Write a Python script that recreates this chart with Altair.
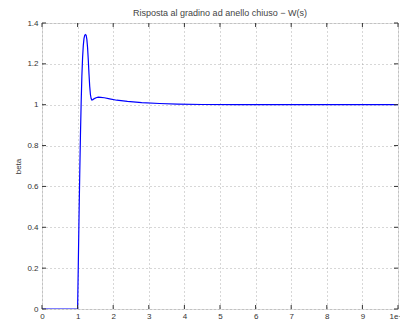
import altair as alt
import pandas as pd

# Closed-loop step response W(s)
time = [0.0, 0.5, 1.0, 1.02, 1.04, 1.06, 1.08, 1.10, 1.12, 1.14, 1.16, 1.18, 1.20,
        1.22, 1.24, 1.26, 1.28, 1.30, 1.32, 1.34, 1.36, 1.38, 1.40, 1.43, 1.47,
        1.52, 1.58, 1.65, 1.75, 1.9, 2.1, 2.4, 2.8, 3.3, 3.8, 4.5, 5.5, 7.0, 8.5, 10.0]
beta = [0.0, 0.0, 0.0, 0.22, 0.45, 0.66, 0.85, 1.01, 1.14, 1.23, 1.29, 1.325, 1.34,
        1.343, 1.34, 1.32, 1.28, 1.22, 1.15, 1.09, 1.05, 1.03, 1.023, 1.025, 1.03,
        1.034, 1.037, 1.036, 1.034, 1.029, 1.022, 1.016, 1.010, 1.006, 1.003, 1.001,
        1.0, 1.0, 1.0, 1.0]

x_ticks = [0, 1, 2, 3, 4, 5, 6, 7, 8, 9, 10]
y_ticks = [0, 0.2, 0.4, 0.6, 0.8, 1.0, 1.2, 1.4]

W, H = 356, 286
FONT = "Liberation Sans"

df = pd.DataFrame({"t": time, "beta": beta})
xt = pd.DataFrame({"v": x_ticks})
yt = pd.DataFrame({"v": y_ticks})

xscale = alt.Scale(domain=[0, 10], nice=False, zero=False)
yscale = alt.Scale(domain=[0, 1.4], nice=False, zero=False)

common = dict(grid=True, gridDash=[1, 3], gridColor="#999999", gridWidth=0.8,
              ticks=False, domain=False, labelFontSize=8, labelColor="#333333",
              labelFont=FONT, labelOverlap=False, labelFlush=False,
              titleFont=FONT, titleFontSize=8, titleFontWeight="normal",
              titleColor="#333333", format="~g")

xaxis = alt.Axis(values=x_ticks, title="Time", labelPadding=3,
                 titleY=H + 11, titleBaseline="top", **common)
yaxis = alt.Axis(values=y_ticks, title="beta", labelPadding=4,
                 titleX=-20, titleY=H / 2, **common)

line = alt.Chart(df).mark_line(color="#0000ff", strokeWidth=1.2, clip=True).encode(
    x=alt.X("t:Q", scale=xscale, axis=xaxis),
    y=alt.Y("beta:Q", scale=yscale, axis=yaxis),
)

# inward tick marks on all four sides of the box
tick_style = dict(color="#333333", strokeWidth=1)
xb = alt.Chart(xt).mark_rule(**tick_style).encode(
    x=alt.X("v:Q", scale=xscale, axis=xaxis), y=alt.value(H), y2=alt.value(H - 4))
xtop = alt.Chart(xt).mark_rule(**tick_style).encode(
    x=alt.X("v:Q", scale=xscale, axis=xaxis), y=alt.value(0), y2=alt.value(4))
yl = alt.Chart(yt).mark_rule(**tick_style).encode(
    y=alt.Y("v:Q", scale=yscale, axis=yaxis), x=alt.value(0), x2=alt.value(4))
yr = alt.Chart(yt).mark_rule(**tick_style).encode(
    y=alt.Y("v:Q", scale=yscale, axis=yaxis), x=alt.value(W), x2=alt.value(W - 4))

chart = alt.layer(line, xb, xtop, yl, yr).properties(
    width=W, height=H,
    title=alt.TitleParams("Risposta al gradino ad anello chiuso − W(s)",
                          font=FONT, fontSize=9, fontWeight="normal",
                          color="#444444", offset=1),
    autosize=alt.AutoSizeParams(type="none"),
    padding={"left": 42, "top": 23, "right": 2, "bottom": 18},
).configure_view(stroke="#333333", strokeWidth=1.2).configure(background="white")

chart.save("out.html", embed_options={"renderer": "svg", "actions": False})
